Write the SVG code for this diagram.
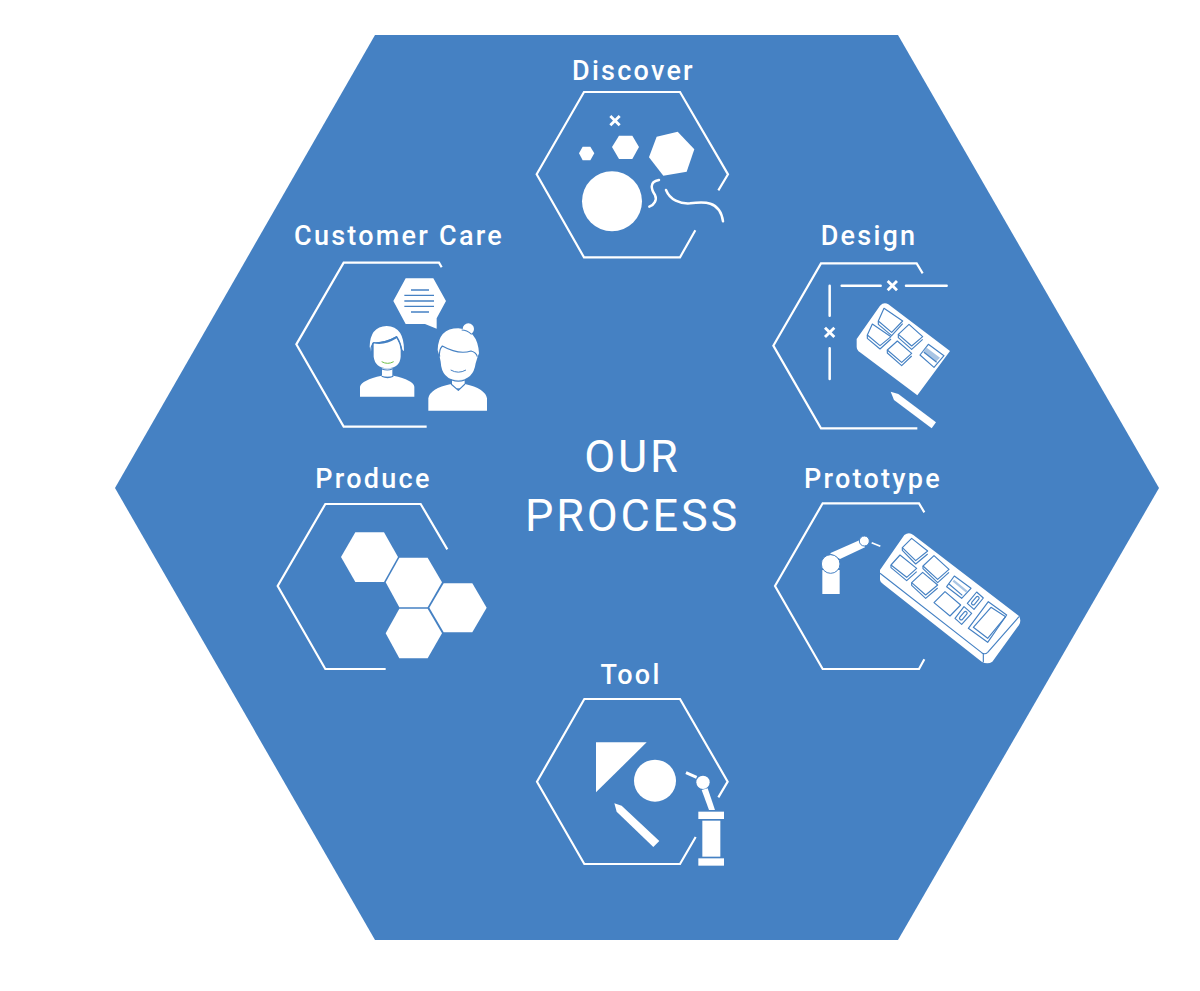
<svg xmlns="http://www.w3.org/2000/svg" width="1200" height="991" viewBox="0 0 1200 991">
<style>
text{font-family:Roboto,"Liberation Sans",sans-serif;fill:#fff;text-anchor:middle;font-weight:500}
.lb{font-size:27px;letter-spacing:2.25px}
.t{font-size:45px;letter-spacing:2.8px;font-weight:400}
.o{fill:none;stroke:#fff;stroke-width:6.500;stroke-linejoin:miter}
.r{stroke-linecap:round;stroke-width:7.500}
.w{fill:#fff}
.b{fill:none;stroke:#4581c3;stroke-width:3.500;stroke-linejoin:round}
.bf{fill:#fff;stroke:#4581c3;stroke-width:3.500;stroke-linejoin:round}
</style>
<defs>
<path id="x" d="M-14,-14L14,14M14,-14L-14,14" fill="none" stroke="#fff" stroke-width="8.500"/>
</defs>
<rect width="1200" height="991" fill="#fff"/>
<polygon id="bg" points="375,35 898,35 1159,488 898,940 375,940 115,488" fill="#4581c3"/>
<g id="title"><text class="t" x="632.500" y="472">OUR</text><text class="t" x="632.500" y="531">PROCESS</text></g>

<g id="discover">
<text class="lb" x="633.500" y="79.500">Discover</text>
<g transform="translate(520,50) scale(.33333)">
<path class="o" d="M595,421L624,373L480,126H192L50,373L192,622H480L526,541"/>
<use href="#x" x="285" y="212"/>
<polygon class="w" points="177,310 188,290 211,290 223,310 211,331 188,331"/>
<polygon class="w" points="276,291 297,257 337,257 357,291 337,327 297,327"/>
<polygon class="w" points="473,245 523,298 500,365 430,377 387,322 410,260"/>
<circle class="w" cx="276" cy="454" r="90"/>
<path class="o r" d="M417,390C385,395 395,420 405,435C412,450 402,465 388,470"/>
<path class="o r" d="M438,420C450,450 480,462 510,460C550,455 600,450 609,514"/>
</g></g>

<g id="design">
<text class="lb" x="869" y="244.500">Design</text>
<g transform="translate(760,215) scale(.33333)">
<path class="o" d="M488,175L470,145H183L40,392L183,640H472"/>
<path class="o r" d="M245,212H362M438,212H560M209,212V302M209,400V492"/>
<use href="#x" x="397" y="212"/><use href="#x" x="209" y="352"/>
<path class="w" d="M360,272Q372,260 385,268L570,408L472,541L300,412Q290,405 290,395V372Z"/>
<path class="bf" d="M372,280L428,318L395,352L355,318Z"/><path class="b" d="M355,318V328L395,362L428,326"/>
<path class="bf" d="M337,327L393,365L360,392L322,360Z"/><path class="b" d="M322,360V370L360,402L393,372"/>
<path class="bf" d="M447,328L488,365L455,393L415,358Z"/><path class="b" d="M415,358V368L455,403L488,373"/>
<path class="bf" d="M412,378L455,415L425,442L382,405Z"/><path class="b" d="M382,405V414L425,452L455,423"/>
<path class="bf" d="M505,388L552,422L522,457L480,420Z"/>
<path d="M500,398L540,428L528,440L488,410Z" fill="#a9c5e4"/><path class="b" d="M492,412L530,442"/>
<polygon class="w" points="392,530 415,537 528,622 515,640 402,555"/>
</g></g>

<g id="customer-care">
<text class="lb" x="399" y="244.500">Customer Care</text>
<g transform="translate(285,215) scale(.33333)">
<path class="o" d="M470,157L462,143H176L34,388L176,635H425"/>
<polygon class="w" points="362,190 445,190 483,258 455,310 455,341 420,327 362,327 325,258"/>
<path d="M378,225H432M358,241H447M358,258H447M358,274H447M378,291H432" fill="none" stroke="#4581c3" stroke-width="4"/>
<path class="w" d="M225,545V515Q230,495 290,482Q308,492 325,482Q385,495 388,515V545Z"/>
<rect class="w" x="291" y="460" width="31" height="25"/>
<path class="w" d="M266,385Q300,392 335,370Q345,385 347,405V425Q345,458 307,460Q270,458 266,425Z"/>
<path class="w" d="M254,395Q255,335 305,333Q358,335 357,408L352,405Q348,385 335,363Q300,383 262,383L258,410Z"/>
<path class="b" d="M258,410Q256,395 266,383Q300,385 335,365Q348,385 351,408M290,462Q308,468 322,462M290,484Q308,492 325,484"/>
<path d="M290,440Q308,450 326,440" fill="none" stroke="#6fc04a" stroke-width="3"/>
<circle class="w" cx="550" cy="342" r="17"/>
<path class="w" d="M458,405Q460,340 520,340Q578,345 582,415L578,425L572,445Q565,495 520,495Q470,495 467,440L464,425Z"/>
<path class="b" d="M530,345Q545,345 560,358M464,425Q461,405 472,393Q520,420 558,408Q574,412 577,425"/>
<path d="M497,465Q520,478 543,465" fill="none" stroke="#4581c3" stroke-width="3"/>
<rect class="w" x="501" y="493" width="38" height="27"/>
<path class="b" d="M500,495Q520,502 540,495"/>
<path class="w" d="M430,587V550Q435,520 498,507L520,526L540,507Q600,520 606,550V587Z"/>
<path class="b" d="M498,507L520,526L540,507"/>
</g></g>

<g id="prototype">
<text class="lb" x="873" y="487.500">Prototype</text>
<g transform="translate(765,490) scale(.33333)">
<path class="o" d="M478,67L462,40H173L30,288L173,537H462L478,508"/>
<rect class="w" x="172" y="240" width="52" height="72"/>
<polygon class="w" points="195,190 290,148 300,172 225,207"/>
<circle class="w" cx="197" cy="222" r="28" stroke="#4581c3" stroke-width="3"/>
<circle class="w" cx="298" cy="153" r="15" stroke="#4581c3" stroke-width="3"/>
<path d="M320,158L346,169" stroke="#fff" stroke-width="5" fill="none"/>
<path class="w" d="M345,240V270Q346,278 355,283L650,515Q668,525 682,515L762,405Q770,392 762,378L445,135Q432,125 418,135Z"/>
<path class="b" d="M345,250L650,488Q660,495 668,487L762,380"/>
<path class="b" d="M655,490V517"/>
<path class="bf" d="M440,145L488,183L452,212L412,173Z"/><path class="b" d="M412,173V181L452,222L488,192"/>
<path class="bf" d="M405,195L455,235L425,262L378,225Z"/><path class="b" d="M378,225V233L425,272L455,245"/>
<path class="bf" d="M507,197L552,238L518,268L474,228Z"/><path class="b" d="M474,228V236L518,278L552,247"/>
<path class="bf" d="M473,247L518,285L482,315L440,278Z"/><path class="b" d="M440,278V286L482,325L518,294"/>
<path class="bf" d="M540,305L587,345L555,378L507,338Z"/>
<path class="bf" d="M568,258L618,295L590,325L545,290Z"/><path d="M565,272L605,305" stroke="#a9c5e4" stroke-width="7" fill="none"/><path class="b" d="M552,282L592,316"/>
<path class="bf" d="M635,306L655,324L627,358L607,340Z"/><rect class="bf" x="-5" y="-15" width="10" height="30" rx="5" transform="translate(631,332) rotate(40)"/>
<path class="bf" d="M597,350L620,370L590,403L570,385Z"/><rect class="bf" x="-5" y="-15" width="10" height="30" rx="5" transform="translate(595,377) rotate(40)"/>
<path class="bf" d="M670,335L725,375L668,457L610,415Z"/><path class="b" d="M678,352L722,380L668,445L625,412Z"/>
</g></g>

<g id="tool">
<text class="lb" x="631" y="683.500">Tool</text>
<g transform="translate(525,690) scale(.33333)">
<path class="o" d="M580,322L608,275L465,27H178L36,275L178,522H465L512,441"/>
<polygon class="w" points="213,157 365,157 213,307"/>
<circle class="w" cx="390" cy="272" r="63"/>
<polygon class="w" points="268,340 290,347 403,453 385,471 275,365"/>
<rect class="w" x="520" y="365" width="77" height="22"/>
<rect class="w" x="532" y="392" width="54" height="108"/>
<rect class="w" x="520" y="505" width="77" height="22"/>
<polygon class="w" points="530,300 548,295 570,360 552,360"/>
<circle class="w" cx="534" cy="277" r="20"/>
<path d="M483,248L515,262" stroke="#fff" stroke-width="9" fill="none"/>
</g></g>

<g id="produce">
<text class="lb" x="373.500" y="487.500">Produce</text>
<g transform="translate(270,495) scale(.33333)">
<path class="o" d="M532,163L452,27H166L23,273L166,522H347"/>
<polygon class="w" points="213,186 256,112 342,112 384,186 342,261 256,261"/>
<polygon class="w" points="347,262 388,188 473,188 516,262 473,337 388,337"/>
<polygon class="w" points="478,338 521,265 607,265 650,338 607,412 521,412"/>
<polygon class="w" points="347,415 388,341 473,341 516,415 473,490 388,490"/>
</g></g>
</svg>
